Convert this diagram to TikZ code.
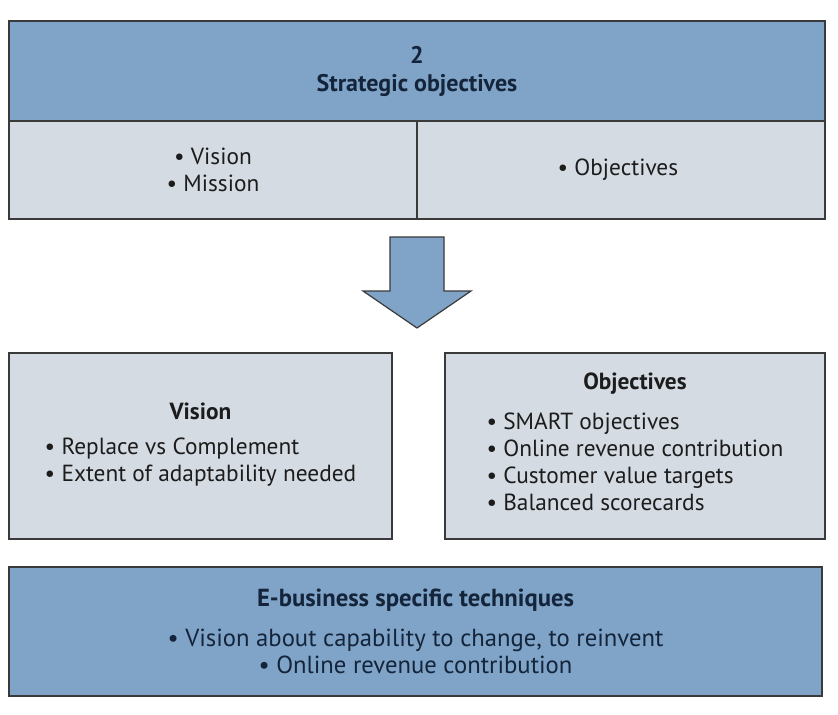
\documentclass[tikz,border=0pt]{standalone}
\usepackage{fontspec}
\setmainfont{PT Sans}
\usepackage{tikz}
\usetikzlibrary{positioning,calc}

\definecolor{headblue}{HTML}{7FA4C8}
\definecolor{paleblue}{HTML}{D4DBE3}
\definecolor{framegray}{HTML}{3A3A3A}
\definecolor{inkblue}{HTML}{14243A}
\definecolor{inkgray}{HTML}{1C1C1C}

\newcommand{\px}{0.75pt}

\tikzset{
  panel/.style={
    rectangle,
    draw=framegray,
    line width=0.9pt,
    inner sep=0pt,
    align=center,
    text=inkgray,
    font=\fontsize{17.5}{20.25}\selectfont
  }
}
\tikzset{
  head panel/.style={
    panel,
    fill=headblue,
    text=inkblue
  }
}
\tikzset{
  pale panel/.style={
    panel,
    fill=paleblue
  }
}
\tikzset{
  block arrow/.style={
    draw=framegray,
    fill=headblue,
    line width=0.9pt,
    line join=miter
  }
}

\begin{document}
\begin{tikzpicture}[x=0.75pt,y=-0.75pt]

    % ------------------------------------------------------------
    % Canvas
    % ------------------------------------------------------------

    \fill[white] (0,0) rectangle (838,714);
    \useasboundingbox (0,0) rectangle (838,714);

    % ------------------------------------------------------------
    % Nodes
    % ------------------------------------------------------------

    \node[head panel,minimum width=816*\px,minimum height=100*\px,
          font=\fontsize{18}{21}\selectfont\bfseries] (strat) at (417,71)
    {
      2\\
      Strategic objectives
    };

    \node[pale panel,minimum width=408*\px,minimum height=98*\px] (visit) at (213,170)
    {
      • Vision\\
      • Mission
    };

    \node[pale panel,minimum width=408*\px,minimum height=98*\px] (objit) at (621,170)
    {
      • Objectives
    };

    \node[pale panel,minimum width=383*\px,minimum height=186*\px] (vision) at (200.5,446)
    {
      \textbf{Vision}\\[11pt]
      \begin{tabular}{@{}l@{}}
        • Replace vs Complement\\
        • Extent of adaptability needed
      \end{tabular}
    };

    \node[pale panel,minimum width=380*\px,minimum height=186*\px] (objectives) at (635,446)
    {
      \textbf{Objectives}\\[11pt]
      \begin{tabular}{@{}l@{}}
        • SMART objectives\\
        • Online revenue contribution\\
        • Customer value targets\\
        • Balanced scorecards
      \end{tabular}
    };

    \node[head panel,minimum width=813*\px,minimum height=129*\px,
          font=\fontsize{18.5}{20.25}\selectfont] (ebiz) at (415.5,631.5)
    {
      \textbf{E-business specific techniques}\\[10pt]
      • Vision about capability to change, to reinvent\\
      • Online revenue contribution
    };

    % ------------------------------------------------------------
    % Arrow
    % ------------------------------------------------------------

    \draw[block arrow]
      (390,237) -- (444,237) -- (444,291) -- (471,291)
      -- (417,328) -- (363,291) -- (390,291) -- cycle;

\end{tikzpicture}
\end{document}
